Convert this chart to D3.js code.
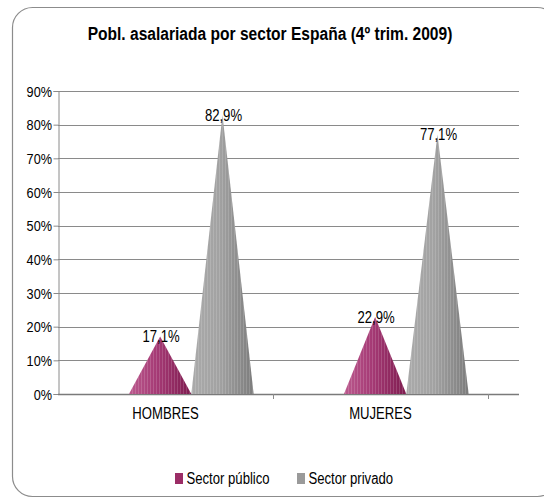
<!DOCTYPE html>
<html>
<head>
<meta charset="utf-8">
<script src="https://cdn.jsdelivr.net/npm/d3@7"></script>
<style>
  html, body { margin: 0; padding: 0; background: #fff; }
  svg { display: block; }
  text { font-family: "Liberation Sans", Arial, sans-serif; fill: #000; }
</style>
</head>
<body>
<script>
const title = "Pobl. asalariada por sector España (4º trim. 2009)";
const categories = ["HOMBRES", "MUJERES"];
const series = ["Sector público", "Sector privado"];
const publico = [0.171, 0.229];
const privado = [0.829, 0.771];
const labelsPublico = ["17,1%", "22,9%"];
const labelsPrivado = ["82,9%", "77,1%"];
const yTicks = [0, 0.1, 0.2, 0.3, 0.4, 0.5, 0.6, 0.7, 0.8, 0.9];

(function () {
const W = 544, H = 498;
const SX = 0.82; // narrow-font emulation
const svg = d3.select("body").append("svg").attr("width", W).attr("height", H);
const defs = svg.append("defs");

function grad(id, stops) {
  const g = defs.append("linearGradient").attr("id", id).attr("x1", "0").attr("x2", "1").attr("y1", "0").attr("y2", "0");
  stops.forEach(s => g.append("stop").attr("offset", s[0]).attr("stop-color", s[1]));
}
grad("gPub", [[0, "#bb5a8e"], [0.45, "#a53a75"], [1, "#7e1c4f"]]);
grad("gPriv", [[0, "#aaaaaa"], [0.45, "#a2a2a2"], [1, "#7c7c7c"]]);
const pat = defs.append("pattern").attr("id", "stripes").attr("patternUnits", "userSpaceOnUse")
  .attr("width", 3).attr("height", 10);
pat.append("rect").attr("x", 0).attr("y", 0).attr("width", 1).attr("height", 10).attr("fill", "#fff").attr("opacity", 0.15);

const nt = (xx, yy) => `translate(${xx},${yy}) scale(${SX},1)`;

svg.append("rect").attr("x", 12.5).attr("y", 7.5).attr("width", 545).attr("height", 489)
  .attr("rx", 20).attr("fill", "#fff").attr("stroke", "#8c8c8c").attr("stroke-width", 1.2);

svg.append("text").attr("transform", nt(270, 40)).attr("text-anchor", "middle")
  .attr("font-size", 19).attr("font-weight", "bold").text(title);

const pLeft = 58, pRight = 488, gridRight = 519, pTop = 91, pBottom = 394;
const y = d3.scaleLinear().domain([0, 0.9]).range([pBottom, pTop]);
const x = d3.scaleBand().domain(categories).range([pLeft, pRight]);
const bw = x.bandwidth();
const inner = d3.scaleBand().domain(series).range([0.33 * bw, 0.91 * bw]);

svg.append("g").selectAll("line").data(yTicks.slice(1)).join("line")
  .attr("x1", pLeft).attr("x2", gridRight)
  .attr("y1", d => Math.round(y(d)) + 0.5).attr("y2", d => Math.round(y(d)) + 0.5)
  .attr("stroke", "#8a8a8a").attr("stroke-width", 1);

const yAxis = d3.axisLeft(y).tickValues(yTicks).tickFormat(d3.format(".0%")).tickSize(5).tickPadding(3);
const gy = svg.append("g").attr("transform", `translate(${pLeft + 0.5},0)`).call(yAxis);
gy.attr("font-family", null).attr("font-size", null);
gy.select(".domain").attr("stroke", "#8a8a8a");
gy.selectAll(".tick line").attr("stroke", "#8a8a8a");
gy.selectAll(".tick text").attr("x", null).attr("dy", "0.34em")
  .attr("transform", nt(-6.5, 0)).attr("font-size", 15.5).attr("fill", "#000");

svg.append("line").attr("x1", pLeft).attr("x2", gridRight).attr("y1", pBottom + 0.5).attr("y2", pBottom + 0.5)
  .attr("stroke", "#7a7a7a").attr("stroke-width", 1.6);

const bounds = [x(categories[1]), pRight];
svg.append("g").selectAll("line").data(bounds).join("line")
  .attr("x1", d => d + 0.5).attr("x2", d => d + 0.5).attr("y1", pBottom).attr("y2", pBottom + 5)
  .attr("stroke", "#8a8a8a");

svg.append("g").selectAll("text").data(categories).join("text")
  .attr("transform", d => nt(x(d) + bw / 2, 419)).attr("text-anchor", "middle")
  .attr("font-size", 16).text(d => d);

const data = [];
categories.forEach((c, i) => {
  data.push({ c, s: series[0], v: publico[i], lab: labelsPublico[i], fill: "url(#gPub)" });
  data.push({ c, s: series[1], v: privado[i], lab: labelsPrivado[i], fill: "url(#gPriv)" });
});
const cw = inner.bandwidth();
function conePath(d) {
  const x0 = x(d.c) + inner(d.s);
  const cx = x0 + cw / 2;
  return `M${x0},${pBottom}L${cx},${y(d.v)}L${x0 + cw},${pBottom}Z`;
}
const cones = svg.append("g");
cones.selectAll("path.cone").data(data).join("path").attr("class", "cone")
  .attr("d", conePath).attr("fill", d => d.fill);
cones.selectAll("path.str").data(data).join("path").attr("class", "str")
  .attr("d", conePath).attr("fill", "url(#stripes)");

svg.append("g").selectAll("text").data(data).join("text")
  .attr("transform", d => nt(x(d.c) + inner(d.s) + cw / 2 + 1, y(d.v)))
  .attr("dy", "0.36em").attr("text-anchor", "middle")
  .attr("font-size", 16).text(d => d.lab);

const legX = [175, 297];
const legColors = ["#9b2d66", "#9a9a9a"];
const leg = svg.append("g");
series.forEach((s, i) => {
  leg.append("rect").attr("x", legX[i]).attr("y", 473).attr("width", 8).attr("height", 11).attr("fill", legColors[i]);
  leg.append("text").attr("transform", nt(legX[i] + 11.5, 484)).attr("font-size", 16).text(s);
});
})();
</script>
</body>
</html>
